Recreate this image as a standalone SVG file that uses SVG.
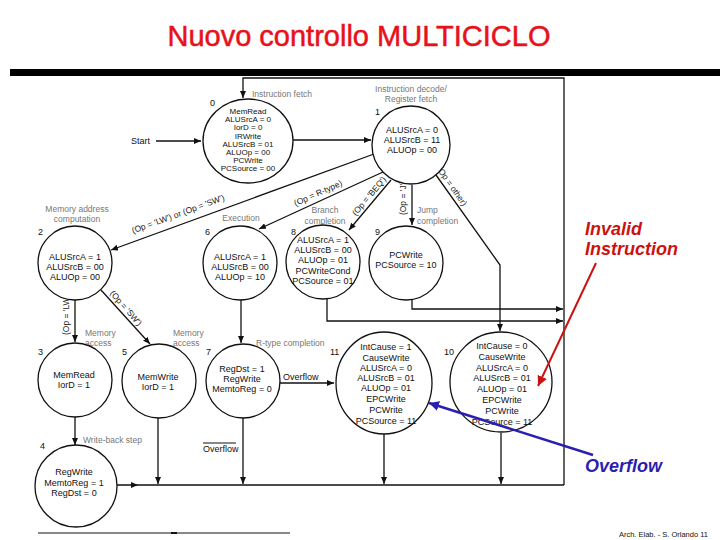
<svg xmlns="http://www.w3.org/2000/svg" width="720" height="540" viewBox="0 0 720 540">
<style>
text{font-family:"Liberation Sans",Arial,sans-serif;fill:#111}
.c{font-size:9px;text-anchor:middle}
.c0{font-size:8px;text-anchor:middle}
.st{font-size:8.5px;fill:#777}
.stm{font-size:8.5px;fill:#777;text-anchor:middle}
.n{font-size:9px}
.lb{font-size:8.5px;fill:#222;text-anchor:middle}
.node{fill:#fff;stroke:#111;stroke-width:1.3}
.ln{fill:none;stroke:#111;stroke-width:1.3}
.ann{font-size:18px;font-weight:bold;font-style:italic}
</style>
<defs>
<marker id="a" markerUnits="userSpaceOnUse" markerWidth="8" markerHeight="6" refX="7" refY="3" orient="auto"><path d="M0,0 L7,3 L0,6 z" fill="#111"/></marker>
<marker id="ar" markerUnits="userSpaceOnUse" markerWidth="12" markerHeight="10" refX="10" refY="5" orient="auto"><path d="M0,0 L10,5 L0,10 z" fill="#cc1111"/></marker>
<marker id="ab" markerUnits="userSpaceOnUse" markerWidth="12" markerHeight="10" refX="10" refY="5" orient="auto"><path d="M0,0 L10,5 L0,10 z" fill="#2a1fae"/></marker>
</defs>
<rect width="720" height="540" fill="#fff"/>
<text x="359" y="46" text-anchor="middle" style="font-size:29px;fill:#e8101a;stroke:#e8101a;stroke-width:0.5">Nuovo controllo MULTICICLO</text>
<rect x="10" y="69" width="710" height="7" fill="#000"/>

<g id="connectors">
<path class="ln" d="M156,141 H201" marker-end="url(#a)"/>
<path class="ln" d="M293,140 H371" marker-end="url(#a)"/>
<path class="ln" d="M564,485 V78 H243 V98" marker-end="url(#a)"/>
<path class="ln" d="M374,154 L111,250" marker-end="url(#a)"/>
<path class="ln" d="M383,172 L259,229" marker-end="url(#a)"/>
<path class="ln" d="M391,180 L349,230" marker-end="url(#a)"/>
<path class="ln" d="M412,185 V225" marker-end="url(#a)"/>
<path class="ln" d="M436,175 L500,265 V331" marker-end="url(#a)"/>
<path class="ln" d="M75,300 V342" marker-end="url(#a)"/>
<path class="ln" d="M101,290 L150,344" marker-end="url(#a)"/>
<path class="ln" d="M241,300 V343" marker-end="url(#a)"/>
<path class="ln" d="M75,417 V445" marker-end="url(#a)"/>
<path class="ln" d="M327,299 V321 H563" marker-end="url(#a)"/>
<path class="ln" d="M412,300 V309 H563" marker-end="url(#a)"/>
<path class="ln" d="M280,383 H334" marker-end="url(#a)"/>
<path class="ln" d="M117,485 H564"/>
<path d="M131,482 L138,485 L131,488 z" fill="#111"/>
<path class="ln" d="M158,418 V484" marker-end="url(#a)"/>
<path class="ln" d="M243,418 V484" marker-end="url(#a)"/>
<path class="ln" d="M384,434 V484" marker-end="url(#a)"/>
<path class="ln" d="M501,433 V484" marker-end="url(#a)"/>
</g>

<g id="labels">
<text class="st" x="252" y="97">Instruction fetch</text>
<text class="stm" x="411" y="92">Instruction decode/</text>
<text class="stm" x="411" y="102">Register fetch</text>
<text class="n" x="131" y="144">Start</text>
<text class="stm" x="77" y="212">Memory address</text>
<text class="stm" x="77" y="222">computation</text>
<text class="stm" x="241" y="221">Execution</text>
<text class="stm" x="325" y="213">Branch</text>
<text class="stm" x="325" y="224">completion</text>
<text class="st" x="417" y="213">Jump</text>
<text class="st" x="417" y="224">completion</text>
<text class="st" x="85" y="336">Memory</text>
<text class="st" x="85" y="346">access</text>
<text class="st" x="173" y="336">Memory</text>
<text class="st" x="173" y="346">access</text>
<text class="st" x="256" y="346">R-type completion</text>
<text class="st" x="83" y="443">Write-back step</text>
<text class="n" x="283" y="380">Overflow</text>
<text class="n" x="203" y="452">Overflow</text>
<line x1="203" y1="443" x2="236" y2="443" stroke="#111" stroke-width="1"/>
<text class="lb" transform="translate(178,214) rotate(-20)" y="3">(Op = 'LW') or (Op = 'SW')</text>
<text class="lb" transform="translate(318,193) rotate(-24)" y="3">(Op = R-type)</text>
<text class="lb" transform="translate(369,196) rotate(-50)" y="3">(Op = 'BEQ')</text>
<text class="lb" transform="translate(403,198) rotate(-90)" y="3">(Op = 'J')</text>
<text class="lb" transform="translate(452,186) rotate(55)" y="3">(Op = other)</text>
<text class="lb" transform="translate(66,314) rotate(-90)" y="3">(Op = 'LW')</text>
<text class="lb" transform="translate(126,308) rotate(49)" y="3">(Op = 'SW')</text>
</g>

<g id="s0">
<ellipse class="node" cx="248" cy="141" rx="45" ry="42"/>
<text class="n" x="210" y="106">0</text>
<text class="c0" x="248" y="114">MemRead</text>
<text class="c0" x="248" y="122">ALUSrcA = 0</text>
<text class="c0" x="248" y="130">IorD = 0</text>
<text class="c0" x="248" y="138.5">IRWrite</text>
<text class="c0" x="248" y="146.5">ALUSrcB = 01</text>
<text class="c0" x="248" y="154.5">ALUOp = 00</text>
<text class="c0" x="248" y="163">PCWrite</text>
<text class="c0" x="248" y="171">PCSource = 00</text>
</g>
<g id="s1">
<circle class="node" cx="411" cy="145" r="39"/>
<text class="n" x="375" y="115">1</text>
<text class="c" x="412" y="133">ALUSrcA = 0</text>
<text class="c" x="412" y="143">ALUSrcB = 11</text>
<text class="c" x="412" y="153">ALUOp = 00</text>
</g>
<g id="s2">
<circle class="node" cx="75" cy="263" r="37"/>
<text class="n" x="38" y="235">2</text>
<text class="c" x="75" y="260">ALUSrcA = 1</text>
<text class="c" x="75" y="270">ALUSrcB = 00</text>
<text class="c" x="75" y="280">ALUOp = 00</text>
</g>
<g id="s6">
<circle class="node" cx="240" cy="263" r="37"/>
<text class="n" x="205" y="235">6</text>
<text class="c" x="240" y="260">ALUSrcA = 1</text>
<text class="c" x="240" y="270">ALUSrcB = 00</text>
<text class="c" x="240" y="280">ALUOp = 10</text>
</g>
<g id="s8">
<circle class="node" cx="323" cy="262" r="37"/>
<text class="n" x="291" y="235">8</text>
<text class="c" x="323" y="243">ALUSrcA = 1</text>
<text class="c" x="323" y="253">ALUSrcB = 00</text>
<text class="c" x="323" y="263">ALUOp = 01</text>
<text class="c" x="323" y="274">PCWriteCond</text>
<text class="c" x="323" y="284">PCSource = 01</text>
</g>
<g id="s9">
<circle class="node" cx="406" cy="263" r="37"/>
<text class="n" x="375" y="235">9</text>
<text class="c" x="406" y="258">PCWrite</text>
<text class="c" x="406" y="268">PCSource = 10</text>
</g>
<g id="s3">
<circle class="node" cx="75" cy="380" r="37"/>
<text class="n" x="38" y="355">3</text>
<text class="c" x="74" y="378">MemRead</text>
<text class="c" x="74" y="388">IorD = 1</text>
</g>
<g id="s5">
<circle class="node" cx="159" cy="381" r="37"/>
<text class="n" x="122" y="355">5</text>
<text class="c" x="158" y="380">MemWrite</text>
<text class="c" x="158" y="390">IorD = 1</text>
</g>
<g id="s7">
<circle class="node" cx="243" cy="381" r="37"/>
<text class="n" x="206" y="355">7</text>
<text class="c" x="242" y="372">RegDst = 1</text>
<text class="c" x="242" y="382">RegWrite</text>
<text class="c" x="242" y="392">MemtoReg = 0</text>
</g>
<g id="s11">
<ellipse class="node" cx="384" cy="383" rx="48" ry="51"/>
<text class="n" x="330" y="355">11</text>
<text class="c" x="386" y="350">IntCause = 1</text>
<text class="c" x="386" y="361">CauseWrite</text>
<text class="c" x="386" y="371">ALUSrcA = 0</text>
<text class="c" x="386" y="381">ALUSrcB = 01</text>
<text class="c" x="386" y="391">ALUOp = 01</text>
<text class="c" x="386" y="402">EPCWrite</text>
<text class="c" x="386" y="413">PCWrite</text>
<text class="c" x="386" y="424">PCSource = 11</text>
</g>
<g id="s10">
<ellipse class="node" cx="501" cy="382" rx="51" ry="50"/>
<text class="n" x="444" y="355">10</text>
<text class="c" x="502" y="349">IntCause = 0</text>
<text class="c" x="502" y="360">CauseWrite</text>
<text class="c" x="502" y="371">ALUSrcA = 0</text>
<text class="c" x="502" y="381">ALUSrcB = 01</text>
<text class="c" x="502" y="392">ALUOp = 01</text>
<text class="c" x="502" y="403">EPCWrite</text>
<text class="c" x="502" y="414">PCWrite</text>
<text class="c" x="502" y="425">PCSource = 11</text>
</g>
<g id="s4">
<circle class="node" cx="76" cy="486" r="41"/>
<text class="n" x="40" y="449">4</text>
<text class="c" x="74" y="475">RegWrite</text>
<text class="c" x="74" y="486">MemtoReg = 1</text>
<text class="c" x="74" y="496">RegDst = 0</text>
</g>

<g id="annotations">
<text class="ann" x="585" y="235" style="fill:#cc1111">Invalid</text>
<text class="ann" x="585" y="255" style="fill:#cc1111">Instruction</text>
<line x1="596" y1="263" x2="538" y2="386" stroke="#cc1111" stroke-width="2" marker-end="url(#ar)"/>
<text class="ann" x="585" y="472" style="fill:#2a1fae">Overflow</text>
<line x1="593" y1="455" x2="429" y2="403" stroke="#2a1fae" stroke-width="2.5" marker-end="url(#ab)"/>
</g>

<line x1="38" y1="533" x2="290" y2="533" stroke="#111" stroke-width="1"/>
<rect x="171" y="532" width="6" height="2" fill="#111"/>
<text x="708" y="537" text-anchor="end" style="font-size:7.5px">Arch. Elab. - S. Orlando 11</text>
</svg>
